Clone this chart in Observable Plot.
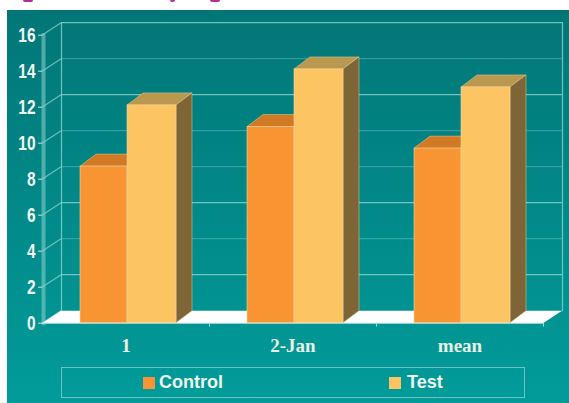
<!DOCTYPE html>
<html>
<head>
<meta charset="utf-8">
<script src="https://cdn.jsdelivr.net/npm/d3@7"></script>
<script src="https://cdn.jsdelivr.net/npm/@observablehq/plot@0.6"></script>
<style>
  html, body { margin: 0; padding: 0; background: #fff; }
  #chart { position: relative; width: 569px; height: 403px; overflow: hidden; }
  #chart svg { display: block; position: absolute; left: 0; top: 0; }
  #legend { position: absolute; left: 61px; top: 367px; width: 462px; height: 29px;
            border: 1px solid #6fc2bf; box-sizing: content-box; font: bold 18px "Liberation Sans", sans-serif; color: #eef6ee; }
  #legend span { position: absolute; top: 4px; line-height: 21px; }
  #legend i { position: absolute; top: 9px; width: 12px; height: 12px; }
  .edge { position: absolute; top: 0; height: 2px; background: #b62e98; border-radius: 0 0 6px 6px; }
</style>
</head>
<body>
<div id="chart"></div>
<script>
// Series read against the 0-16 value axis
const categories = ["1", "2-Jan", "mean"];
const control = [8.7, 10.9, 9.7];
const test = [12.1, 14.1, 13.1];
const yTicks = [0, 2, 4, 6, 8, 10, 12, 14, 16];
const strongGrid = [2, 6, 12, 16];
const softGrid = [4, 8, 10, 14];
const seriesNames = ["Control", "Test"];
const seriesColors = ["#f89532", "#fdc462"];
const topColors = ["#d07a26", "#bb9850"];
const sideColors = ["#a8641f", "#7d6536"];

const W = 569, H = 403;
const wallDx = 19, wallDy = -12.5;   // offset of the back wall from the front plane
const barDx = 16, barDy = -12;       // depth of a bar

const rowsOf = (values) => categories.map((c, i) => ({category: c, value: values[i]}));

// Swaps the rules of a ruleY mark for the receding lines on the side wall
function sideWall(index, scales, values, dims, ctx, next) {
  const g = next(index, scales, values, dims, ctx);
  g.querySelectorAll("line").forEach((l) => {
    l.setAttribute("x2", +l.getAttribute("x1") + wallDx);
    l.setAttribute("y2", +l.getAttribute("y1") + wallDy);
  });
  return g;
}

// Swaps the single baseline rule for the white floor parallelogram
function floor(index, scales, values, dims, ctx, next) {
  const g = next(index, scales, values, dims, ctx);
  g.querySelectorAll("line").forEach((l) => {
    const x1 = +l.getAttribute("x1"), x2 = +l.getAttribute("x2"), y = +l.getAttribute("y1");
    const p = document.createElementNS("http://www.w3.org/2000/svg", "polygon");
    p.setAttribute("points", `${x1},${y} ${x1 + wallDx},${y + wallDy} ${x2 + wallDx},${y + wallDy} ${x2},${y}`);
    p.setAttribute("fill", "#fff");
    p.setAttribute("stroke", "none");
    l.replaceWith(p);
  });
  return g;
}

// Adds the top and side faces behind every front face of a bar mark
function extrude(seriesIndex) {
  return function (index, scales, values, dims, ctx, next) {
    const g = next(index, scales, values, dims, ctx);
    g.querySelectorAll("rect").forEach((r) => {
      const x = +r.getAttribute("x"), y = +r.getAttribute("y");
      const w = +r.getAttribute("width"), h = +r.getAttribute("height");
      const face = (pts, fill) => {
        const p = document.createElementNS("http://www.w3.org/2000/svg", "polygon");
        p.setAttribute("points", pts.map((q) => q.join(",")).join(" "));
        p.setAttribute("fill", fill);
        p.setAttribute("stroke", "#efcf96");
        p.setAttribute("stroke-opacity", "0.6");
        p.setAttribute("stroke-width", "0.8");
        r.parentNode.insertBefore(p, r);
      };
      face([[x, y], [x + barDx, y + barDy], [x + w + barDx, y + barDy], [x + w, y]], topColors[seriesIndex]);
      face([[x + w, y], [x + w + barDx, y + barDy], [x + w + barDx, y + h + barDy], [x + w, y + h]], sideColors[seriesIndex]);
    });
    return g;
  };
}

const barStyle = {x: "category", y: "value", stroke: "#f3d8a6", strokeWidth: 0.8, strokeOpacity: 0.7};

const plot = Plot.plot({
  width: W,
  height: H,
  marginLeft: 42,
  marginRight: 26,
  marginTop: 34.7,
  marginBottom: 80.3,
  style: {
    background: "linear-gradient(#027677, #019c9a) 7px 10px / 562px 393px no-repeat",
    overflow: "hidden"
  },
  x: {domain: categories, padding: 0, label: null},
  y: {domain: [0, 16], label: null},
  marks: [
    // back wall and side wall
    Plot.ruleY(strongGrid, {stroke: "#8fd3ce", strokeOpacity: 0.8, strokeWidth: 1.2, dx: wallDx, dy: wallDy}),
    Plot.ruleY(softGrid, {stroke: "#7cc9c5", strokeOpacity: 0.4, strokeWidth: 1.2, dx: wallDx, dy: wallDy}),
    Plot.ruleY(yTicks, {stroke: "#8fd3ce", strokeOpacity: 0.75, strokeWidth: 1.2, render: sideWall}),
    Plot.frame({anchor: "left", stroke: "#8fd3ce", strokeOpacity: 0.8, strokeWidth: 1.2, dx: wallDx, dy: wallDy}),
    Plot.frame({anchor: "right", stroke: "#8fd3ce", strokeOpacity: 0.8, strokeWidth: 1.2, dx: wallDx, dy: wallDy}),
    Plot.frame({anchor: "left", stroke: "#8fd3ce", strokeOpacity: 0.55, strokeWidth: 4, dx: 1}),
    Plot.ruleY([0], {render: floor}),
    Plot.ruleY([0], {stroke: "#bfe3df", strokeWidth: 1}),
    // bars, each inset into its share of the category band
    Plot.barY(rowsOf(control), {...barStyle, fill: seriesColors[0], insetLeft: 38, insetRight: 82, render: extrude(0)}),
    Plot.barY(rowsOf(test), {...barStyle, fill: seriesColors[1], insetLeft: 85, insetRight: 33, render: extrude(1)}),
    // category separators
    Plot.ruleX(categories, {x: (d) => d, y1: 0, y2: -0.22, dx: 83.5, stroke: "#9fd6d2"}),
    // axes
    Plot.axisY(yTicks, {
      anchor: "left", label: null, tickSize: 4, tickPadding: 3, stroke: "#bfe3df", fill: "#f2f8f2",
      fontSize: 21, fontWeight: 700, fontFamily: "'Liberation Sans', sans-serif"
    }),
    Plot.axisX({
      anchor: "bottom", label: null, tickSize: 0, tickPadding: 15, fill: "#e9f1e6",
      fontSize: 19, fontWeight: 700, fontFamily: "'Liberation Serif', serif"
    })
  ]
});

const chart = document.getElementById("chart");
chart.append(plot);

// The value labels use a condensed setting of the sans face
plot.querySelectorAll('[aria-label="y-axis tick label"] text').forEach((t) => {
  t.setAttribute("textLength", t.textContent.length * 8.6);
  t.setAttribute("lengthAdjust", "spacingAndGlyphs");
});

// Legend row drawn from the series lists
const legend = document.createElement("div");
legend.id = "legend";
const swatchLeft = [81, 327], labelLeft = [97, 345];
seriesNames.forEach((name, i) => {
  const swatch = document.createElement("i");
  swatch.style.left = swatchLeft[i] + "px";
  swatch.style.background = seriesColors[i];
  const label = document.createElement("span");
  label.style.left = labelLeft[i] + "px";
  label.textContent = name;
  legend.append(swatch, label);
});
chart.append(legend);

// Small magenta slivers along the page's top edge
[[23, 10], [170, 5], [210, 10]].forEach(([left, width]) => {
  const sliver = document.createElement("div");
  sliver.className = "edge";
  sliver.style.left = left + "px";
  sliver.style.width = width + "px";
  chart.append(sliver);
});
</script>
</body>
</html>
